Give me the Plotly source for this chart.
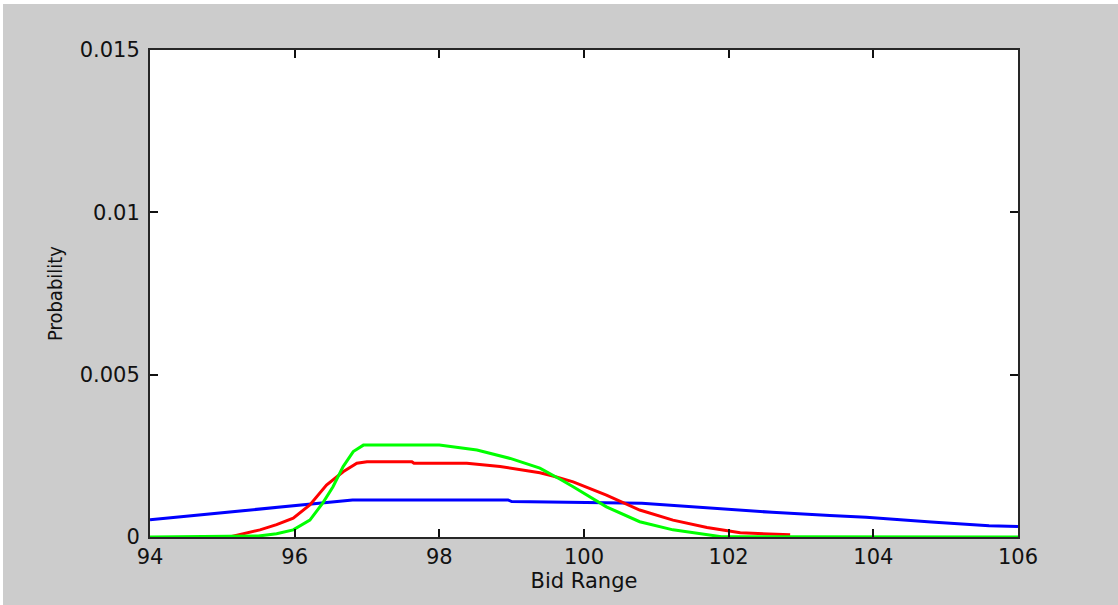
import plotly.graph_objects as go

# ---- data ----
blue_x = [94.0, 94.5, 95.0, 95.5, 96.0, 96.5, 96.8, 98.95, 99.0, 100.8, 101.3, 102.0, 102.6, 103.4, 103.9, 104.8, 105.6, 106.0]
blue_y = [0.00053, 0.00064, 0.00075, 0.00085, 0.00098, 0.00108, 0.00114, 0.00114, 0.00109, 0.00104, 0.00096, 0.00085, 0.00076, 0.00066, 0.00061, 0.00046, 0.00035, 0.00032]

red_x = [95.1, 95.3, 95.52, 95.75, 95.98, 96.21, 96.44, 96.67, 96.86, 97.0, 97.62, 97.65, 98.38, 98.84, 99.21, 99.39, 99.57, 99.85, 100.31, 100.77, 101.23, 101.7, 102.16, 102.5, 102.85]
red_y = [0.0, 0.0001, 0.00022, 0.00038, 0.00058, 0.00099, 0.0016, 0.00201, 0.00227, 0.00232, 0.00232, 0.00227, 0.00227, 0.00217, 0.00204, 0.00198, 0.00188, 0.0017, 0.00129, 0.00083, 0.00052, 0.00029, 0.00013, 0.00009, 0.00007]

green_x = [94.0, 95.5, 95.75, 95.98, 96.21, 96.39, 96.53, 96.67, 96.81, 96.95, 98.0, 98.52, 98.98, 99.39, 99.67, 99.85, 100.31, 100.77, 101.23, 101.7, 101.9, 106.0]
green_y = [0.0, 0.00003, 0.0001, 0.00022, 0.00052, 0.00105, 0.00155, 0.00217, 0.00263, 0.00283, 0.00283, 0.00268, 0.00242, 0.00212, 0.00178, 0.00155, 0.00093, 0.00047, 0.00022, 0.00008, 0.00001, 0.0]

x_ticks = [94, 96, 98, 100, 102, 104, 106]
y_ticks = [0, 0.005, 0.01, 0.015]
y_ticktext = ["0", "0.005", "0.01", "0.015"]

W, H = 1118, 605
L, R, T, B = 150, 100, 50, 68
pw, ph = W - L - R, H - T - B

def px_x(p):
    return (p - L) / pw

def px_y(p):
    return (H - B - p) / ph

fig = go.Figure()
for xs, ys, col in [(blue_x, blue_y, "#0000ff"), (red_x, red_y, "#ff0000"), (green_x, green_y, "#00ff00")]:
    fig.add_trace(go.Scatter(x=xs, y=ys, mode="lines", line=dict(color=col, width=3), showlegend=False, hoverinfo="skip"))

axis_common = dict(
    showline=True, linecolor="#262626", linewidth=2, mirror="allticks",
    ticks="inside", ticklen=8, tickwidth=2, tickcolor="#111111",
    showgrid=False, zeroline=False,
    tickfont=dict(family="DejaVu Sans", size=21, color="#111111"),
)

fig.update_layout(
    width=W, height=H,
    margin=dict(l=L, r=R, t=T, b=B, autoexpand=False),
    paper_bgcolor="white",
    plot_bgcolor="white",
    shapes=[
        dict(type="rect", xref="paper", yref="paper", x0=px_x(3), x1=px_x(W + 5), y0=px_y(H + 5), y1=px_y(4),
             fillcolor="#cccccc", line=dict(width=0), layer="below"),
        dict(type="rect", xref="paper", yref="paper", x0=0, x1=1, y0=0, y1=1,
             fillcolor="white", line=dict(width=0), layer="below"),
    ],
    xaxis=dict(range=[94, 106], tickvals=x_ticks, ticktext=[str(v) for v in x_ticks],
               ticklabelstandoff=0,
               title=dict(text="Bid Range", font=dict(family="DejaVu Sans", size=21, color="#111111"), standoff=2),
               **axis_common),
    yaxis=dict(range=[0, 0.015], tickvals=y_ticks, ticktext=y_ticktext,
               ticklabelstandoff=4,
               title=dict(text="Probability", font=dict(family="Liberation Sans Narrow, DejaVu Sans Condensed", size=20, color="#111111"), standoff=12),
               **axis_common),
)

fig.write_html("out.html")
